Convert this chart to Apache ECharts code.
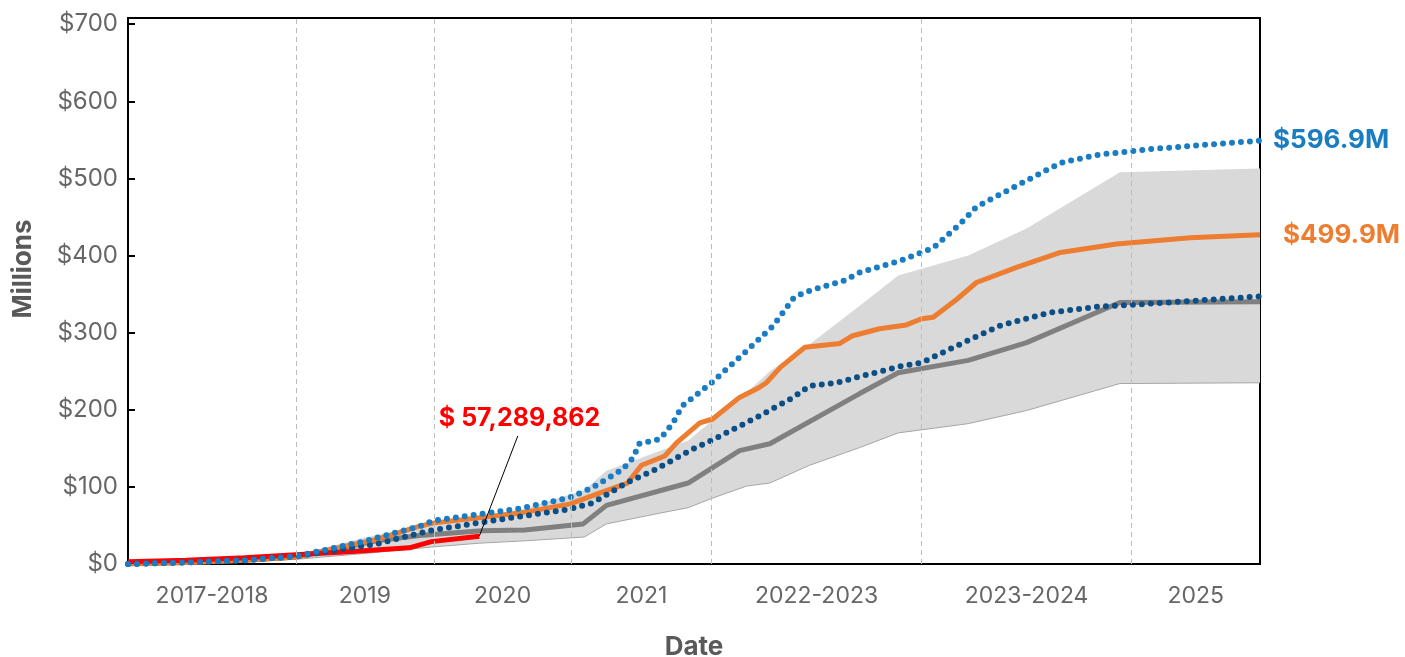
<!DOCTYPE html>
<html>
<head>
<meta charset="UTF-8">
<title>Cumulative spend</title>
<script src="https://cdn.jsdelivr.net/npm/echarts@6.0.0/dist/echarts.min.js"></script>
<style>
	html, body { margin: 0; padding: 0; background: #fff; }
	#chart { width: 1405px; height: 657px; }
</style>
</head>
<body>
	<div id="chart"></div>
	<script type="text/javascript">
		// x values are months since the start of the chart
		var periodBounds = [14.4, 26.2, 38, 50, 68, 86];
		var periodLabels = ['2017-2018', '2019', '2020', '2021', '2022-2023', '2023-2024', '2025'];
		var periodCenters = [7.2, 20.3, 32.1, 44, 59, 77, 91.5];

		// range band (low / high)
		var bandX = [0, 5, 10, 14.4, 20.5, 26, 30.1, 34, 39.1, 41, 45.6, 48, 50, 53, 55, 58.4, 62.7, 66, 72, 77, 85, 97];
		var bandLow = [0, 1, 3, 6, 14, 22, 27, 30, 35, 52, 66, 73, 85, 101, 105, 128, 151, 170, 182, 199, 234, 235];
		var bandHigh = [0, 2, 5, 12, 35, 52, 62, 72, 96, 121, 147, 160, 185, 222, 250, 285, 335, 374, 400, 435, 508, 513];

		// median (gray)
		var medX = [0, 5, 10, 14.4, 21.3, 25, 30.3, 34, 39, 41, 48, 52.4, 55, 62.7, 66, 72, 77, 85, 97];
		var medY = [0, 2, 5, 9, 30, 37, 43, 44, 52, 76, 105, 147, 156, 221, 248, 264, 287, 339, 340];

		// orange
		var orangeX = [0, 5, 10, 14.4, 21.3, 25, 26.1, 33.6, 37.9, 40.4, 42.8, 44, 46, 47, 49, 50.1, 52.4, 54.1, 54.7, 55.9, 58, 61, 62.1, 64.4, 66.7, 68, 69, 71, 72.7, 76.2, 79.9, 84.7, 91, 97];
		var orangeY = [0, 2, 5, 9, 32, 49, 53, 66, 78, 92, 105, 128, 140, 157, 183, 188, 216, 229, 235, 255, 281, 286, 296, 305, 310, 318, 320, 343, 365, 385, 404, 415, 423, 427];

		// light blue dotted
		var blueX = [0, 5, 10, 14.4, 20.4, 21.3, 25, 26.1, 33.6, 37.8, 39.8, 42.4, 43.3, 43.8, 45.6, 46.7, 47.5, 50, 52.7, 55.3, 57, 57.9, 59.9, 61.3, 62.7, 66.1, 69, 71.3, 72.7, 76.2, 79, 80.1, 83.3, 85.9, 87.6, 97];
		var blueY = [0, 2, 5, 10, 30, 34, 49, 56, 72, 86, 99, 123, 138, 156, 162, 183, 205, 235, 272, 309, 344, 352, 361, 367, 378, 393, 410, 441, 463, 491, 513, 521, 531, 535, 538, 549];

		// dark blue dotted
		var navyX = [0, 5, 10, 14.4, 21.3, 25, 26.1, 33.3, 37.8, 39.8, 42.7, 45, 47.3, 48.4, 50.1, 54.1, 57, 58.4, 60.7, 62.7, 66.1, 68, 71.3, 74.7, 79, 83.3, 86, 97];
		var navyY = [0, 2, 5, 10, 26, 40, 44, 61, 71, 79, 105, 121, 140, 149, 161, 192, 216, 231, 235, 243, 256, 261, 285, 309, 326, 334, 336, 347];

		// actual to date (red)
		var redX = [0, 5, 10, 14.4, 19.9, 24.1, 26, 30.1];
		var redY = [3, 5, 8, 12, 17, 21, 29, 36];

		var redNote = '$ 57,289,862';
		var redNoteAt = [33.4, 166];
		var blueEnd = '$596.9M';
		var orangeEnd = '$499.9M';

		function pairs(xs, ys) {
			var out = [];
			for (var i = 0; i < xs.length; i++) {
				out.push([xs[i], ys[i]]);
			}
			return out;
		}

		var font = 'Inter';
		var chart = echarts.init(document.getElementById('chart'));
		chart.setOption({
			animation : false,
			grid : {
				left : 128,
				right : 145,
				top : 18,
				bottom : 93,
				outerBoundsMode : 'none',
				show : true,
				borderColor : '#000',
				borderWidth : 2
			},
			xAxis : {
				type : 'value',
				min : 0,
				max : 97,
				axisLine : { show : true, lineStyle : { color : '#000', width : 2 } },
				axisTick : { show : false },
				splitLine : { show : false },
				axisLabel : {
					customValues : periodCenters,
					formatter : function(v) {
						var k = periodCenters.indexOf(v);
						return k >= 0 ? periodLabels[k] : '';
					},
					color : '#666',
					fontFamily : font,
					fontSize : 23,
					margin : 21
				},
				name : 'Date',
				nameLocation : 'middle',
				nameGap : 70,
				nameTextStyle : { color : '#595959', fontFamily : font, fontSize : 26, fontWeight : 'bold' }
			},
			yAxis : {
				type : 'value',
				min : 0,
				max : 708,
				interval : 100,
				axisLine : { show : true, lineStyle : { color : '#000', width : 2 } },
				axisTick : { show : true, inside : true, length : 7, lineStyle : { color : '#000', width : 2 } },
				splitLine : { show : false },
				axisLabel : {
					showMaxLabel : false,
					formatter : function(v) { return v % 100 === 0 ? '$' + v : ''; },
					color : '#666',
					fontFamily : font,
					fontSize : 24,
					margin : 10
				},
				name : 'Millions',
				nameLocation : 'middle',
				nameGap : 92,
				nameTextStyle : { color : '#595959', fontFamily : font, fontSize : 26, fontWeight : 'bold', padding : [0, 0, 0, 44] }
			},
			series : [ {
				name : 'range',
				type : 'custom',
				silent : true,
				data : [ [ 0, 0 ] ],
				renderItem : function(params, api) {
					var pts = [];
					for (var i = 0; i < bandX.length; i++) {
						pts.push(api.coord([ bandX[i], bandHigh[i] ]));
					}
					for (var j = bandX.length - 1; j >= 0; j--) {
						pts.push(api.coord([ bandX[j], bandLow[j] ]));
					}
					return {
						type : 'polygon',
						shape : { points : pts },
						style : { fill : '#d9d9d9' }
					};
				}
			}, {
				name : 'low',
				type : 'line',
				symbol : 'none',
				lineStyle : { color : '#a6a6a6', width : 1 },
				data : pairs(bandX, bandLow)
			}, {
				name : 'median',
				type : 'line',
				symbol : 'none',
				lineStyle : { color : '#808080', width : 5 },
				data : pairs(medX, medY),
				markLine : {
					silent : true,
					symbol : [ 'none', 'none' ],
					label : { show : false },
					lineStyle : { color : '#bdbdbd', width : 1, type : [ 5, 4 ] },
					data : periodBounds.map(function(v) { return { xAxis : v }; })
				}
			}, {
				name : 'orange',
				type : 'line',
				symbol : 'none',
				lineStyle : { color : '#ed7d31', width : 5 },
				data : pairs(orangeX, orangeY),
				endLabel : {
					show : true,
					formatter : orangeEnd,
					color : '#ed7d31',
					fontFamily : font,
					fontSize : 26,
					fontWeight : 'bold',
					distance : 23
				}
			}, {
				name : 'actual',
				type : 'line',
				symbol : 'none',
				lineStyle : { color : '#ff0000', width : 5 },
				data : pairs(redX, redY),
				markLine : {
					silent : true,
					symbol : [ 'none', 'none' ],
					lineStyle : { color : '#000', width : 1, type : 'solid' },
					label : {
						show : true,
						position : 'end',
						formatter : redNote,
						color : '#ff0000',
						fontFamily : font,
						fontSize : 25,
						fontWeight : 'bold'
					},
					data : [ [ { coord : [ redX[redX.length - 1], redY[redY.length - 1] ] }, { coord : redNoteAt } ] ]
				}
			}, {
				name : 'navy',
				type : 'line',
				symbol : 'none',
				lineStyle : { color : '#0d4f85', width : 6, type : [ 0, 9 ], cap : 'round' },
				data : pairs(navyX, navyY)
			}, {
				name : 'blue',
				type : 'line',
				symbol : 'none',
				lineStyle : { color : '#1a7cc2', width : 6, type : [ 0, 9 ], cap : 'round' },
				data : pairs(blueX, blueY),
				endLabel : {
					show : true,
					formatter : blueEnd,
					color : '#1a7cc2',
					fontFamily : font,
					fontSize : 26,
					fontWeight : 'bold',
					distance : 13
				}
			} ]
		});
	</script>
</body>
</html>
